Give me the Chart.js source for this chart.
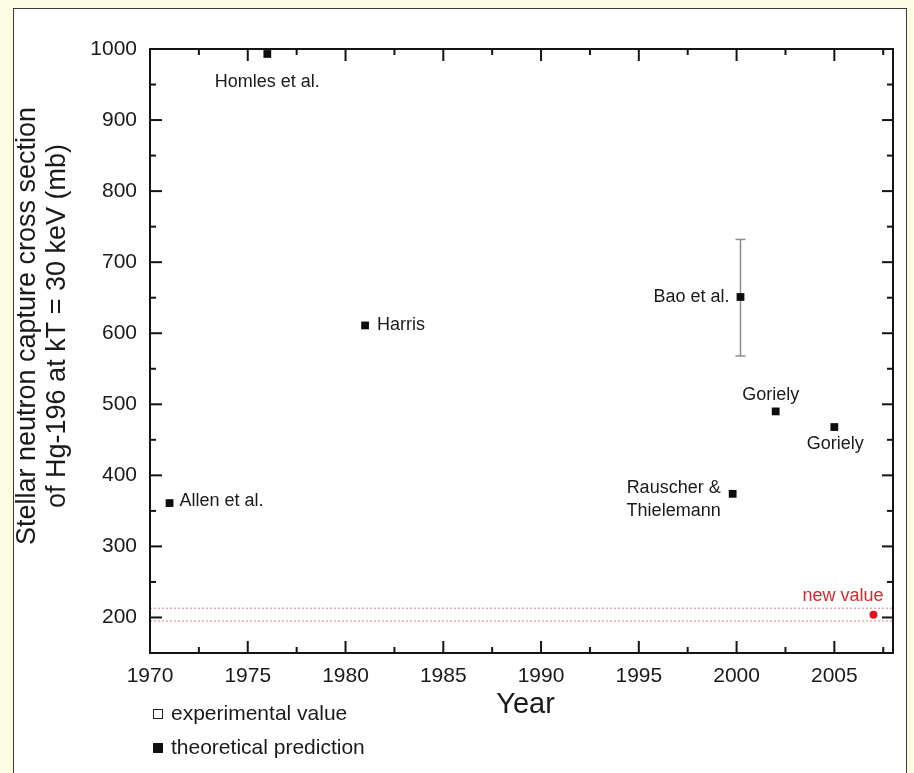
<!DOCTYPE html>
<html>
<head>
<meta charset="utf-8">
<title>Hg-196 capture cross section</title>
<script src="https://cdn.jsdelivr.net/npm/chart.js@4.4.1/dist/chart.umd.min.js"></script>
<style>
  body { margin: 0; background: #fdfde3; overflow: hidden; }
  #frame { position: absolute; left: 13px; top: 8px; width: 892px; height: 800px; background: #fff; border: 1px solid #3a3a3a; }
  #chart { position: absolute; left: 0; top: 0; }
</style>
</head>
<body>
<div id="frame"></div>
<canvas id="chart" width="914" height="773"></canvas>
<script>
var FONT = "'Liberation Sans', Arial, sans-serif";

// stellar (n,g) cross sections of Hg-196 at kT = 30 keV, by year of publication
var refNames = ["Allen et al.", "Homles et al.", "Harris", "Rauscher &\nThielemann", "Bao et al.", "Goriely", "Goriely"];
var refYears = [1971, 1976, 1981, 1999.8, 2000.2, 2002, 2005];
var refValues = [361, 993, 611, 374, 651, 490, 468];

// uncertainty of the Bao et al. compilation
var baoLow = 568;
var baoHigh = 732;

// the new measurement and its band
var newYears = [2007];
var newValues = [204];
var newBandLow = 195;
var newBandHigh = 213;

var xTickValues = [1970, 1975, 1980, 1985, 1990, 1995, 2000, 2005];
var yTickValues = [200, 300, 400, 500, 600, 700, 800, 900, 1000];

// where each name sits relative to its marker (same order as refNames)
var labelPlace = [
    {dx: 10, dy: -2, align: 'left'},
    {dx: 0, dy: 28, align: 'center'},
    {dx: 12, dy: 0, align: 'left'},
    {dx: -12, dy: -6, align: 'right'},
    {dx: -11, dy: 0, align: 'right'},
    {dx: -5, dy: -16, align: 'center'},
    {dx: 1, dy: 17, align: 'center'}
];

var refPoints = refYears.map(function (y, i) { return {x: y, y: refValues[i]}; });
var newPoints = newYears.map(function (y, i) { return {x: y, y: newValues[i]}; });

function tickLine(ctx, x1, y1, x2, y2) {
    ctx.beginPath();
    ctx.moveTo(x1, y1);
    ctx.lineTo(x2, y2);
    ctx.stroke();
}

function plainNumber(v) {
    return String(v);
}

var framePlugin = {
    id: 'frame',
    beforeDatasetsDraw: function (chart) {
        var ctx = chart.ctx, xs = chart.scales.x, ys = chart.scales.y;
        var px = xs.getPixelForValue(refYears[4]);
        var top = ys.getPixelForValue(baoHigh), bot = ys.getPixelForValue(baoLow);
        ctx.save();
        ctx.strokeStyle = '#8c8c8c';
        ctx.lineWidth = 1.5;
        tickLine(ctx, px, top, px, bot);
        tickLine(ctx, px - 5, top, px + 5, top);
        tickLine(ctx, px - 5, bot, px + 5, bot);
        ctx.restore();
    },
    afterDatasetsDraw: function (chart) {
        var ctx = chart.ctx, xs = chart.scales.x, ys = chart.scales.y;
        ctx.save();
        ctx.font = '18px ' + FONT;
        ctx.fillStyle = '#1a1a1a';
        ctx.textBaseline = 'middle';
        refNames.forEach(function (name, i) {
            var p = labelPlace[i];
            var x = xs.getPixelForValue(refYears[i]) + p.dx;
            var y = ys.getPixelForValue(refValues[i]) + p.dy;
            ctx.textAlign = p.align;
            name.split('\n').forEach(function (line, k) {
                ctx.fillText(line, x, y + k * 23);
            });
        });
        ctx.fillStyle = '#d9272e';
        ctx.textAlign = 'right';
        ctx.fillText('new value', xs.getPixelForValue(newYears[0]) + 10, ys.getPixelForValue(newValues[0]) - 19);
        ctx.restore();
    },
    afterDraw: function (chart) {
        var ctx = chart.ctx, a = chart.chartArea, xs = chart.scales.x, ys = chart.scales.y;
        ctx.save();
        ctx.strokeStyle = '#141414';
        ctx.lineWidth = 2;
        ctx.strokeRect(a.left, a.top, a.right - a.left, a.bottom - a.top);

        // inward ticks on all four sides
        xTickValues.forEach(function (v) {
            var px = xs.getPixelForValue(v);
            if (px > a.left + 1) {
                tickLine(ctx, px, a.bottom, px, a.bottom - 12);
                tickLine(ctx, px, a.top, px, a.top + 12);
            }
            var m = v + 2.5;
            if (m < xs.max) {
                var pm = xs.getPixelForValue(m);
                tickLine(ctx, pm, a.bottom, pm, a.bottom - 6);
                tickLine(ctx, pm, a.top, pm, a.top + 6);
            }
        });
        yTickValues.forEach(function (v) {
            var py = ys.getPixelForValue(v);
            if (py > a.top + 1) {
                tickLine(ctx, a.left, py, a.left + 12, py);
                tickLine(ctx, a.right, py, a.right - 11, py);
            }
            var m = v + 50;
            if (m < ys.max) {
                var pm = ys.getPixelForValue(m);
                tickLine(ctx, a.left, pm, a.left + 6, pm);
                tickLine(ctx, a.right, pm, a.right - 6, pm);
            }
        });

        // axis titles
        ctx.fillStyle = '#1a1a1a';
        ctx.textAlign = 'center';
        ctx.textBaseline = 'middle';
        ctx.font = '29px ' + FONT;
        ctx.fillText('Year', (a.left + a.right) / 2 + 4, 705);

        ctx.save();
        ctx.translate(0, 326);
        ctx.rotate(-Math.PI / 2);
        ctx.font = '27px ' + FONT;
        ctx.fillText('Stellar neutron capture cross section', 0, 28);
        ctx.fillText('of Hg-196 at kT = 30 keV (mb)', 0, 58);
        ctx.restore();

        // key
        ctx.lineWidth = 1;
        ctx.strokeStyle = '#222';
        ctx.strokeRect(153.5, 709.5, 9, 9);
        ctx.fillStyle = '#111';
        ctx.fillRect(153, 743, 10, 10);
        ctx.font = '21px ' + FONT;
        ctx.textAlign = 'left';
        ctx.fillStyle = '#1a1a1a';
        ctx.fillText('experimental value', 171, 714);
        ctx.fillText('theoretical prediction', 171, 748);
        ctx.restore();
    }
};

var ctx = document.getElementById('chart').getContext('2d');
var chart = new Chart(ctx, {
    type: 'scatter',
    data: {
        datasets: [
            {
                data: [{x: 1970, y: newBandHigh}, {x: 2008, y: newBandHigh}],
                type: 'line',
                showLine: true,
                borderColor: 'rgba(226, 96, 100, 0.8)',
                borderWidth: 1,
                borderDash: [2, 2],
                pointRadius: 0
            },
            {
                data: [{x: 1970, y: newBandLow}, {x: 2008, y: newBandLow}],
                type: 'line',
                showLine: true,
                borderColor: 'rgba(226, 96, 100, 0.8)',
                borderWidth: 1,
                borderDash: [2, 2],
                pointRadius: 0
            },
            {
                data: refPoints,
                pointStyle: 'rect',
                pointRadius: 5.5,
                backgroundColor: '#0d0d0d',
                borderWidth: 0
            },
            {
                data: newPoints,
                pointStyle: 'circle',
                pointRadius: 4,
                backgroundColor: '#e0141e',
                borderWidth: 0
            }
        ]
    },
    options: {
        responsive: false,
        animation: false,
        layout: {padding: {top: 49, right: 21, left: 0, bottom: 0}},
        plugins: {legend: {display: false}, tooltip: {enabled: false}},
        scales: {
            x: {
                type: 'linear',
                min: 1970,
                max: 2008,
                grid: {display: false, drawTicks: false},
                border: {display: false},
                afterBuildTicks: function (s) { s.ticks = xTickValues.map(function (v) { return {value: v}; }); },
                afterFit: function (s) { s.height = 120; },
                ticks: {color: '#1a1a1a', padding: 11, maxRotation: 0, callback: plainNumber, font: {size: 21, family: FONT}}
            },
            y: {
                min: 150,
                max: 1000,
                grid: {display: false, drawTicks: false},
                border: {display: false},
                afterBuildTicks: function (s) { s.ticks = yTickValues.map(function (v) { return {value: v}; }); },
                afterFit: function (s) { s.width = 150; },
                ticks: {color: '#1a1a1a', padding: 13, callback: plainNumber, font: {size: 21, family: FONT}}
            }
        }
    },
    plugins: [framePlugin]
});
</script>
</body>
</html>
